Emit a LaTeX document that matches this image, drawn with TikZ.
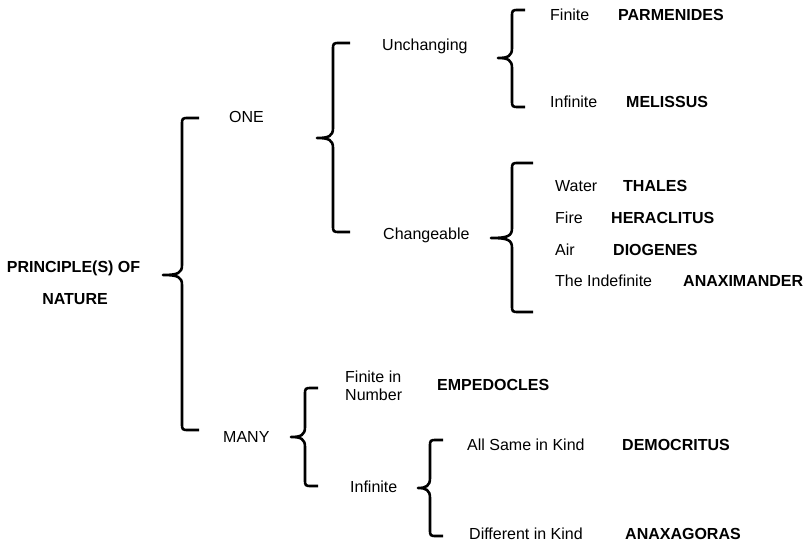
\documentclass[tikz,border=0pt]{standalone}
\usepackage{fontspec}
\setmainfont{Liberation Sans}
\newcommand\cbrace[6]{% #1 tip x, #2 stem x, #3 arm x, #4 top y, #5 mid y, #6 bottom y
  \draw[bracestyle] (#3,#4) -- ({#2+7},#4) .. controls (#2,#4) .. (#2,{#4+7})
    -- (#2,{#5-10}) .. controls (#2,{#5-2}) and ({#2-4},#5) .. (#1,#5)
    .. controls ({#2-4},#5) and (#2,{#5+2}) .. (#2,{#5+10})
    -- (#2,{#6-7}) .. controls (#2,#6) .. ({#2+7},#6) -- (#3,#6);}
\begin{document}
\begin{tikzpicture}[x=1pt,y=-1pt,
  lbl/.style={anchor=west,inner sep=0pt,font=\fontsize{16}{19}\selectfont,text height=11.5pt,text depth=0pt},
  who/.style={lbl,font=\fontsize{16}{19}\selectfont\bfseries},
  bracestyle/.style={line width=2.6pt,line cap=butt,line join=round}]
\useasboundingbox (0,0) rectangle (812,548);

% braces
\cbrace{163}{182}{199}{118}{275}{430}
\cbrace{317}{333}{350}{43}{138}{232}
\cbrace{498}{512}{525}{10}{58}{107}
\cbrace{491}{512}{533}{163}{238}{312}
\cbrace{291}{305}{318}{388}{437}{486}
\cbrace{418}{430}{443}{440}{488}{536}

% root
\node[who,anchor=center] (p1) at (73.5,267) {PRINCIPLE(S) OF};
\node[who,anchor=center] (p2) at (75,299) {NATURE};

\node[lbl] (one) at (229,117) {ONE};
\node[lbl] (many) at (223,437) {MANY};

\node[lbl] (unch) at (382,45) {Unchanging};
\node[lbl] (chg) at (383,234) {Changeable};

\node[lbl] (fin) at (550,15) {Finite};
\node[who] (parm) at (618,15) {PARMENIDES};
\node[lbl] (inf) at (550,102) {Infinite};
\node[who] (mel) at (626,102) {MELISSUS};

\node[lbl] (water) at (555,186) {Water};
\node[who] (thal) at (623,186) {THALES};
\node[lbl] (fire) at (555,218) {Fire};
\node[who] (her) at (611,218) {HERACLITUS};
\node[lbl] (air) at (555,250) {Air};
\node[who] (dio) at (613,250) {DIOGENES};
\node[lbl] (indef) at (555,281) {The Indefinite};
\node[who] (anax) at (683,281) {ANAXIMANDER};

\node[anchor=west,inner sep=0pt,align=left,font=\fontsize{16}{18}\selectfont] (finnum) at (345,386) {Finite in\\Number};
\node[who] (emp) at (437,385) {EMPEDOCLES};
\node[lbl] (inf2) at (350,487) {Infinite};

\node[lbl] (same) at (467,445) {All Same in Kind};
\node[who] (dem) at (622,445) {DEMOCRITUS};
\node[lbl] (diff) at (469,534) {Different in Kind};
\node[who] (anaxag) at (625,534) {ANAXAGORAS};
\end{tikzpicture}
\end{document}
